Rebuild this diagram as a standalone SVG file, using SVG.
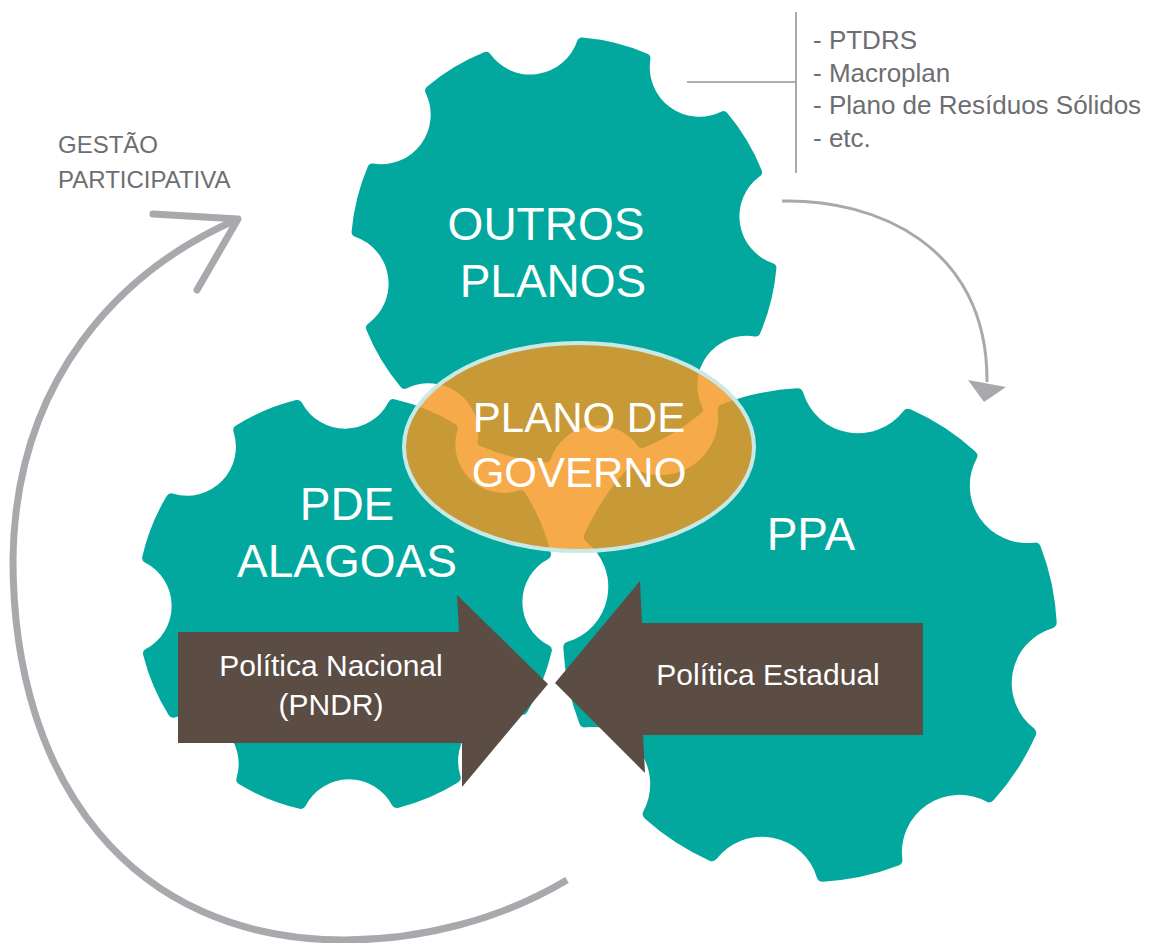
<svg xmlns="http://www.w3.org/2000/svg" xmlns:xlink="http://www.w3.org/1999/xlink" width="1161" height="943" viewBox="0 0 1161 943">
<style>
.gear{fill:#02A89E;stroke:#02A89E;stroke-width:5;stroke-linejoin:round;vector-effect:non-scaling-stroke}
.lbl{font-family:"Liberation Sans",Arial,Helvetica,sans-serif;fill:#FFFFFF;text-anchor:middle}
.big{font-size:46px}
.mid{font-size:42px}
.sm{font-size:30px}
.note{font-family:"Liberation Sans",Arial,Helvetica,sans-serif;fill:#6D6E71}
.brown{fill:#5B4C44}
.conn{fill:none;stroke:#A7A9AC}
</style>
<defs>
<path id="gear" d="M98.77,-15.64 A100,100 0 0 1 98.77,15.64 A26.3,26.3 0 0 0 80.90,58.78 A100,100 0 0 1 58.78,80.90 A26.3,26.3 0 0 0 15.64,98.77 A100,100 0 0 1 -15.64,98.77 A26.3,26.3 0 0 0 -58.78,80.90 A100,100 0 0 1 -80.90,58.78 A26.3,26.3 0 0 0 -98.77,15.64 A100,100 0 0 1 -98.77,-15.64 A26.3,26.3 0 0 0 -80.90,-58.78 A100,100 0 0 1 -58.78,-80.90 A26.3,26.3 0 0 0 -15.64,-98.77 A100,100 0 0 1 15.64,-98.77 A26.3,26.3 0 0 0 58.78,-80.90 A100,100 0 0 1 80.90,-58.78 A26.3,26.3 0 0 0 98.77,-15.64 Z"/>
</defs>
<rect width="1161" height="943" fill="#FFFFFF"/>

<g id="gear-outros-planos">
<use xlink:href="#gear" href="#gear" class="gear" transform="translate(564,250) rotate(14) scale(2.08)"/>
<text class="lbl big" x="546" y="240">OUTROS</text>
<text class="lbl big" x="553" y="297">PLANOS</text>
</g>

<g id="gear-pde-alagoas">
<use xlink:href="#gear" href="#gear" class="gear" transform="translate(347,604) rotate(22) scale(2.05)"/>
<text class="lbl big" x="347" y="520">PDE</text>
<text class="lbl big" x="347" y="577">ALAGOAS</text>
</g>

<g id="gear-ppa">
<use xlink:href="#gear" href="#gear" class="gear" transform="translate(810,635) rotate(-12) scale(2.41)"/>
<text class="lbl big" x="811" y="550">PPA</text>
</g>

<g id="plano-de-governo">
<ellipse cx="579" cy="447" rx="175" ry="104" fill="#F5961F" fill-opacity="0.81" stroke="#C8E9E6" stroke-width="4"/>
<text class="lbl mid" x="579" y="432">PLANO DE</text>
<text class="lbl mid" x="579" y="487">GOVERNO</text>
</g>

<g id="politica-nacional">
<polygon class="brown" points="178,632 459,632 457,595 548,684 462,787 462,743 178,743"/>
<text class="lbl sm" x="331" y="676">Política Nacional</text>
<text class="lbl sm" x="331" y="715">(PNDR)</text>
</g>

<g id="politica-estadual">
<polygon class="brown" points="923,623 642,623 640,581 555,683 645,773 643,735 923,735"/>
<text class="lbl sm" x="768" y="685">Política Estadual</text>
</g>

<g id="outros-lista">
<text class="note" x="813" y="49" font-size="26">- PTDRS</text>
<text class="note" x="813" y="82" font-size="26">- Macroplan</text>
<text class="note" x="813" y="114" font-size="26">- Plano de Resíduos Sólidos</text>
<text class="note" x="813" y="147" font-size="26">- etc.</text>
</g>

<g id="gestao-participativa">
<text class="note" x="58" y="153" font-size="24">GESTÃO</text>
<text class="note" x="58" y="188" font-size="24">PARTICIPATIVA</text>
</g>

<g id="connectors">
<path d="M796,12 V173 M687,82 H796" fill="none" stroke="#939598" stroke-width="1.6"/>
<path class="conn" stroke-width="3" d="M782,201 C875,199 988,245 987,382"/>
<polygon fill="#A7A9AC" points="968,380 1006,387 984,402"/>
<path class="conn" stroke-width="7" d="M567,880 C500,920 420,940 345,940 C130,940 13,780 13,560 C15,380 120,270 238,219"/>
<path class="conn" stroke-width="7" stroke-linecap="round" stroke-linejoin="round" d="M153,214 L238,219 L197,290"/>
</g>
</svg>
